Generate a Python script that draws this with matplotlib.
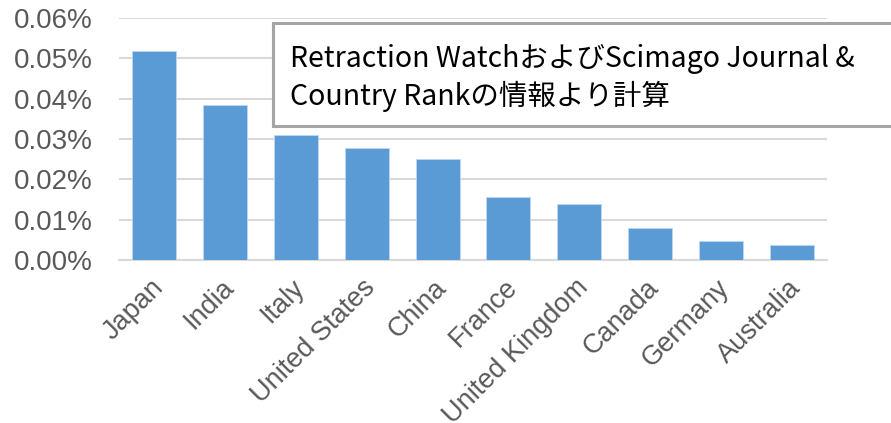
import numpy as np
import matplotlib.pyplot as plt
import matplotlib.transforms as mtrans
from matplotlib.patches import Rectangle

# retraction share by country (percent)
countries = ['Japan', 'India', 'Italy', 'United States', 'China', 'France',
             'United Kingdom', 'Canada', 'Germany', 'Australia']
share_pct = [0.0519, 0.0384, 0.0309, 0.0278, 0.0250, 0.0156,
             0.0140, 0.0080, 0.0048, 0.0036]
yticks = [0.00, 0.01, 0.02, 0.03, 0.04, 0.05, 0.06]
note = 'Retraction WatchおよびScimago Journal &\nCountry Rankの情報より計算'

W, H = 891, 423
fig = plt.figure(figsize=(W/100, H/100), dpi=100)
ax = fig.add_axes([119/W, 1-260/H, 708/W, 242/H])

x = np.arange(len(countries))
ax.bar(x, share_pct, width=0.62, color='#5B9BD5', edgecolor='#BDD7EE', linewidth=0.6, zorder=3)

ax.set_xlim(-0.5, len(countries)-0.5)
ax.set_ylim(0, 0.06)
ax.set_yticks(yticks)
ax.set_yticklabels(['%.2f%%' % v for v in yticks], fontsize=20, color='#595959', family='Liberation Sans')
ax.set_xticks(x)
ax.set_xticklabels(countries, rotation=45, ha='right', va='center', rotation_mode='anchor',
                   fontsize=19.5, color='#595959', family='Liberation Sans')
ax.tick_params(length=0)
ax.tick_params(axis='y', pad=19)
ax.tick_params(axis='x', pad=17)
# shift x labels a bit to the right like Excel does
shift = mtrans.ScaledTranslation(5/100, 0, fig.dpi_scale_trans)
for lab in ax.get_xticklabels():
    lab.set_transform(lab.get_transform() + shift)
ax.grid(axis='y', color='#D9D9D9', linewidth=1.5, zorder=0)
for s in ['top', 'right', 'left']:
    ax.spines[s].set_visible(False)
ax.spines['bottom'].set_color('#D9D9D9')
ax.spines['bottom'].set_linewidth(1.5)

# note box
fig.patches.append(Rectangle((273/W, 1-126/H), 0.8, 103/H, transform=fig.transFigure,
                             facecolor='white', edgecolor='#A5A5A5', linewidth=2.2, zorder=5))
fig.text(290/W, 1-78/H, note, fontsize=20.5, family=['Noto Sans CJK JP', 'DejaVu Sans'],
         va='center', ha='left', linespacing=1.25, zorder=6)

fig.savefig('out.png', dpi=100)
